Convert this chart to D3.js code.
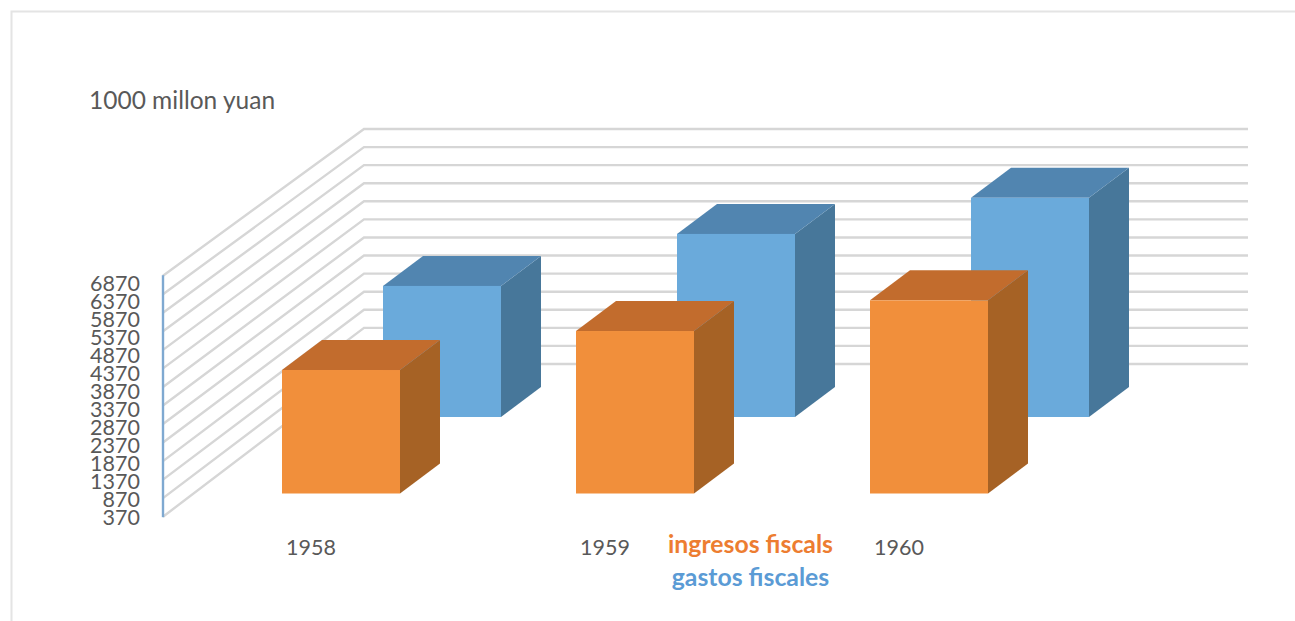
<!DOCTYPE html>
<html>
<head>
<meta charset="utf-8">
<script src="https://cdn.jsdelivr.net/npm/d3@7"></script>
<style>
  html, body { margin: 0; padding: 0; background: #fff; }
  svg { display: block; }
  text { font-family: Lato, "Open Sans", sans-serif; }
</style>
</head>
<body>
<svg id="chart"></svg>
<script>
const years = ["1958", "1959", "1960"];
const ingresos = [3790, 4870, 5720];
const gastos = [4000, 5440, 6440];
const tickValues = [370, 870, 1370, 1870, 2370, 2870, 3370, 3870, 4370, 4870, 5370, 5870, 6370, 6870];
const unitLabel = "1000 millon yuan";
const legendLabels = ["ingresos fiscals", "gastos fiscales"];

const width = 1295;
const height = 621;

const svg = d3.select("#chart").attr("width", width).attr("height", height);

// frame of the chart area, cut off by the page on the right and bottom
svg.append("path")
	.attr("d", `M11.5,${height} V11.5 H${width}`)
	.attr("fill", "none")
	.attr("stroke", "#e4e4e4")
	.attr("stroke-width", 2);

// the fake 3d floor: each depth plane has its own value scale
const yFront = d3.scaleLinear().domain([370, 6870]).range([516.7, 275.7]);
const yBack = d3.scaleLinear().domain([370, 6870]).range([364, 129]);
const yLabels = d3.scaleLinear().domain([370, 6870]).range([518, 284]);
const yIngresos = d3.scaleLinear().domain([370, 6870]).range([493.5, 258.8]);
const yGastos = d3.scaleLinear().domain([370, 6870]).range([417, 182.3]);

const frontX = 163;
const backX = 364;
const rightX = 1248;

const grid = svg.append("g");
grid.selectAll("path")
	.data(tickValues)
	.enter()
	.append("path")
	.attr("d", (d) => `M${frontX},${yFront(d)} L${backX},${yBack(d)} H${rightX}`)
	.attr("fill", "none")
	.attr("stroke", "#d6d6d6")
	.attr("stroke-width", 2.4);

svg.append("line")
	.attr("x1", frontX)
	.attr("x2", frontX)
	.attr("y1", yFront(370) + 0.5)
	.attr("y2", yFront(6870) - 0.5)
	.attr("stroke", "#7fa9d1")
	.attr("stroke-width", 2.4);

const axis = d3.axisLeft(yLabels).tickValues(tickValues).tickSize(0).tickPadding(0).tickFormat(d3.format("d"));
const axisG = svg.append("g").attr("transform", "translate(140,0)").call(axis);
axisG.select(".domain").remove();
axisG.selectAll("text")
	.attr("font-size", 21.5)
	.attr("font-family", "Lato")
	.attr("fill", "#595959");

const xBand = d3.scaleBand().domain(years).range([233, 1115]).paddingInner(0).paddingOuter(0);
const barWidth = 118;
const depthX = 40;
const depthY = -30;

function drawBars(values, yScale, offset, colors) {
	const bars = svg.append("g")
		.selectAll("g")
		.data(values)
		.enter()
		.append("g");

	const left = (i) => xBand(years[i]) + offset;

	// right side
	bars.append("polygon")
		.attr("fill", colors.side)
		.attr("points", (d, i) => {
			const x = left(i) + barWidth, top = yScale(d), bottom = yScale(370);
			return [[x, top], [x + depthX, top + depthY], [x + depthX, bottom + depthY], [x, bottom]].join(" ");
		});

	// top
	bars.append("polygon")
		.attr("fill", colors.top)
		.attr("points", (d, i) => {
			const x = left(i), top = yScale(d);
			return [[x, top], [x + depthX, top + depthY], [x + barWidth + depthX, top + depthY], [x + barWidth, top]].join(" ");
		});

	// front
	bars.append("rect")
		.attr("fill", colors.front)
		.attr("x", (d, i) => left(i))
		.attr("y", (d) => yScale(d))
		.attr("width", barWidth)
		.attr("height", (d) => yScale(370) - yScale(d));
}

drawBars(gastos, yGastos, 150, { front: "#6aaadb", top: "#5185b0", side: "#47779a" });
drawBars(ingresos, yIngresos, 49, { front: "#f18f3b", top: "#c26c2d", side: "#a66225" });

svg.append("g")
	.selectAll("text")
	.data(years)
	.enter()
	.append("text")
	.attr("x", (d) => xBand(d) + xBand.bandwidth() / 2 - 69)
	.attr("y", 555)
	.attr("text-anchor", "middle")
	.attr("font-size", 21.5)
	.attr("fill", "#595959")
	.text((d) => d);

svg.append("text")
	.attr("x", 89)
	.attr("y", 109)
	.attr("font-size", 24.5)
	.attr("fill", "#595959")
	.text(unitLabel);

svg.append("text")
	.attr("x", 750.5)
	.attr("y", 553)
	.attr("text-anchor", "middle")
	.attr("font-size", 24.8)
	.attr("font-weight", 700)
	.attr("fill", "#ed7d31")
	.text(legendLabels[0]);

svg.append("text")
	.attr("x", 750.5)
	.attr("y", 586)
	.attr("text-anchor", "middle")
	.attr("font-size", 24.8)
	.attr("font-weight", 700)
	.attr("fill", "#5b9bd5")
	.text(legendLabels[1]);
</script>
</body>
</html>
